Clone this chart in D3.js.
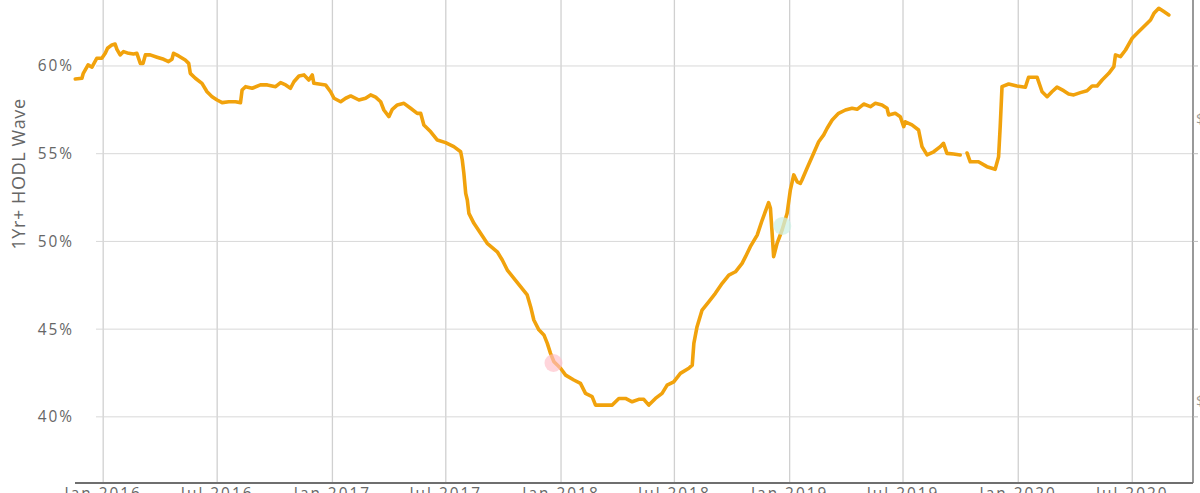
<!DOCTYPE html>
<html>
<head>
<meta charset="utf-8">
<script src="https://cdn.jsdelivr.net/npm/d3@7"></script>
<style>
  html, body { margin: 0; padding: 0; background: #fff; overflow: hidden; }
  svg { display: block; }
  text { font-family: "Open Sans", "DejaVu Sans", sans-serif; }
</style>
</head>
<body>
<svg id="chart" width="1200" height="493"></svg>
<script>
// ---- data (decimal years, % values) ----
const years = [
  2015.878, 2015.907, 2015.913, 2015.934, 2015.951, 2015.972, 2015.994, 2016.009, 2016.019, 2016.038,
  2016.052, 2016.060, 2016.074, 2016.089, 2016.111, 2016.132, 2016.147, 2016.162, 2016.174, 2016.184,
  2016.205, 2016.235, 2016.264, 2016.285, 2016.300, 2016.307, 2016.329, 2016.358, 2016.373, 2016.380,
  2016.402, 2016.431, 2016.453, 2016.475, 2016.497, 2016.519, 2016.548, 2016.577, 2016.599, 2016.606,
  2016.621, 2016.650, 2016.686, 2016.716, 2016.752, 2016.774, 2016.796, 2016.817, 2016.832, 2016.854,
  2016.876, 2016.897, 2016.912, 2016.919, 2016.941, 2016.970, 2016.992, 2017.007, 2017.036, 2017.058,
  2017.080, 2017.116, 2017.145, 2017.167, 2017.189, 2017.211, 2017.225, 2017.247, 2017.262, 2017.284,
  2017.313, 2017.342, 2017.371, 2017.386, 2017.400, 2017.430, 2017.459, 2017.495, 2017.531, 2017.561,
  2017.568, 2017.575, 2017.583, 2017.590, 2017.597, 2017.619, 2017.648, 2017.677, 2017.721, 2017.743,
  2017.765, 2017.794, 2017.823, 2017.852, 2017.867, 2017.881, 2017.903, 2017.925, 2017.940, 2017.954,
  2017.969, 2017.998, 2018.020, 2018.056, 2018.085, 2018.107, 2018.136, 2018.151, 2018.180, 2018.224,
  2018.253, 2018.282, 2018.311, 2018.340, 2018.362, 2018.384, 2018.413, 2018.442, 2018.464, 2018.493,
  2018.522, 2018.559, 2018.574, 2018.581, 2018.595, 2018.617, 2018.646, 2018.675, 2018.705, 2018.734,
  2018.763, 2018.792, 2018.807, 2018.828, 2018.858, 2018.880, 2018.908, 2018.916, 2018.923, 2018.930,
  2018.945, 2018.967, 2018.989, 2019.003, 2019.018, 2019.033, 2019.047, 2019.054, 2019.076, 2019.105,
  2019.127, 2019.149, 2019.164, 2019.186, 2019.214, 2019.244, 2019.273, 2019.295, 2019.324, 2019.353,
  2019.375, 2019.404, 2019.426, 2019.433, 2019.462, 2019.484, 2019.499, 2019.506, 2019.535, 2019.564,
  2019.579, 2019.601, 2019.630, 2019.659, 2019.673, 2019.688, 2019.717, 2019.746, 2019.761, 2019.776,
  2019.790, 2019.826, 2019.863, 2019.899, 2019.914, 2019.921, 2019.929, 2019.958, 2019.994, 2020.031,
  2020.045, 2020.082, 2020.104, 2020.126, 2020.147, 2020.169, 2020.198, 2020.220, 2020.242, 2020.271,
  2020.300, 2020.322, 2020.344, 2020.366, 2020.395, 2020.417, 2020.424, 2020.446, 2020.468, 2020.497,
  2020.526, 2020.555, 2020.577, 2020.592, 2020.613, 2020.635, 2020.657
];
const hodl = [
  59.26, 59.30, 59.58, 60.06, 59.93, 60.44, 60.44, 60.72, 61.01, 61.20,
  61.25, 60.95, 60.63, 60.82, 60.72, 60.68, 60.72, 60.15, 60.15, 60.63,
  60.63, 60.50, 60.38, 60.25, 60.38, 60.72, 60.57, 60.34, 60.15, 59.58,
  59.30, 59.01, 58.53, 58.25, 58.06, 57.91, 57.96, 57.96, 57.91, 58.63,
  58.82, 58.73, 58.92, 58.92, 58.82, 59.05, 58.92, 58.73, 59.10, 59.43,
  59.49, 59.20, 59.49, 59.01, 58.97, 58.92, 58.53, 58.16, 57.96, 58.16,
  58.29, 58.06, 58.16, 58.35, 58.22, 57.96, 57.49, 57.11, 57.53, 57.78,
  57.87, 57.59, 57.30, 57.30, 56.64, 56.25, 55.78, 55.63, 55.40, 55.11,
  54.64, 53.88, 52.74, 52.36, 51.60, 51.03, 50.46, 49.89, 49.41, 48.94,
  48.37, 47.90, 47.42, 46.95, 46.28, 45.52, 44.96, 44.67, 44.19, 43.62,
  43.14, 42.77, 42.38, 42.10, 41.91, 41.34, 41.15, 40.67, 40.67, 40.67,
  41.05, 41.05, 40.86, 41.00, 41.00, 40.67, 41.05, 41.34, 41.81, 42.00,
  42.48, 42.77, 42.95, 44.19, 45.14, 46.09, 46.56, 47.04, 47.61, 48.08,
  48.27, 48.75, 49.13, 49.70, 50.36, 51.22, 52.21, 51.89, 50.55, 49.13,
  49.89, 50.65, 51.60, 52.93, 53.79, 53.40, 53.31, 53.50, 54.17, 55.02,
  55.68, 56.07, 56.45, 56.92, 57.30, 57.49, 57.59, 57.53, 57.83, 57.68,
  57.87, 57.78, 57.59, 57.21, 57.30, 57.11, 56.54, 56.82, 56.64, 56.35,
  55.40, 54.93, 55.11, 55.40, 55.59, 55.02, 54.98, 54.93, null, 55.04,
  54.54, 54.54, 54.26, 54.11, 54.83, 56.54, 58.82, 58.97, 58.86, 58.79,
  59.36, 59.36, 58.53, 58.25, 58.53, 58.79, 58.59, 58.40, 58.35, 58.48,
  58.59, 58.86, 58.86, 59.20, 59.58, 59.96, 60.63, 60.53, 60.91, 61.58,
  61.96, 62.34, 62.62, 63.00, 63.29, 63.10, 62.91
];
const yTicks = [40, 45, 50, 55, 60];
const xDomain = ["2015-11-17", "2020-10-06"];
const markerYears = [2017.967, 2018.968];
const markerValues = [43.07, 50.88];
const markerColors = ["rgba(255,190,200,0.65)", "rgba(205,240,228,0.75)"];
const rightLabels = ["$10K", "$1K"];
const rightLabelValues = [57.0, 40.9];
const yTitle = "1Yr+ HODL Wave";

// ---- helpers ----
function decToDate(t) {
  const y = Math.floor(t);
  const s = Date.UTC(y, 0, 1), e = Date.UTC(y + 1, 0, 1);
  return new Date(s + (t - y) * (e - s));
}
const data = years.map((t, i) => ({ date: decToDate(t), v: hodl[i] }));

const svg = d3.select("#chart");
const left = 75, right = 1193, bottom = 483;

const x = d3.scaleUtc()
  .domain(xDomain.map(s => new Date(s + "T00:00:00Z")))
  .range([left, right]);
const y = d3.scaleLinear()
  .domain([36.23, 63.76])
  .range([bottom, 0]);

// vertical grid (Jan / Jul)
const xTicks = x.ticks(d3.utcMonth.every(6));
svg.append("g")
  .selectAll("line").data(xTicks).join("line")
  .attr("x1", d => x(d)).attr("x2", d => x(d))
  .attr("y1", 0).attr("y2", bottom)
  .attr("stroke", "#d0d0d0").attr("stroke-width", 1.3);

// horizontal grid
svg.append("g")
  .selectAll("line").data(yTicks).join("line")
  .attr("x1", 96).attr("x2", right)
  .attr("y1", d => y(d)).attr("y2", d => y(d))
  .attr("stroke", "#d8d8d8").attr("stroke-width", 1);

// y tick labels
svg.append("g")
  .selectAll("text").data(yTicks).join("text")
  .attr("x", 74).attr("y", d => y(d))
  .attr("dy", "0.35em")
  .attr("text-anchor", "end")
  .attr("font-size", 15.4)
  .attr("letter-spacing", 2)
  .attr("fill", "#666")
  .text(d => d + "%");

// y title
svg.append("text")
  .attr("transform", "translate(25,174) rotate(-90)")
  .attr("text-anchor", "middle")
  .attr("font-size", 18)
  .attr("letter-spacing", 0.6)
  .attr("fill", "#666")
  .text(yTitle);

// x tick labels (cut off by window bottom, as in the source)
const fmt = d3.utcFormat("%b %Y");
svg.append("g")
  .selectAll("text").data(xTicks).join("text")
  .attr("x", d => x(d)).attr("y", 499)
  .attr("text-anchor", "middle")
  .attr("font-size", 15.4)
  .attr("letter-spacing", 2)
  .attr("fill", "#666")
  .text(d => fmt(d));

// right axis frame and ticks
svg.append("line")
  .attr("x1", right).attr("x2", right).attr("y1", 0).attr("y2", bottom)
  .attr("stroke", "#777").attr("stroke-width", 1.5);
svg.append("g")
  .selectAll("line").data(yTicks).join("line")
  .attr("x1", right).attr("x2", right + 5)
  .attr("y1", d => y(d)).attr("y2", d => y(d))
  .attr("stroke", "#bbb");
svg.append("g")
  .selectAll("text").data(rightLabels).join("text")
  .attr("x", 1196).attr("y", (d, i) => y(rightLabelValues[i]))
  .attr("dy", "0.35em")
  .attr("font-size", 15).attr("fill", "#999")
  .text(d => d);

// bottom axis line
svg.append("line")
  .attr("x1", left).attr("x2", right).attr("y1", bottom).attr("y2", bottom)
  .attr("stroke", "#6f6f6f").attr("stroke-width", 2);

// the line
const line = d3.line()
  .defined(d => d.v != null)
  .x(d => x(d.date)).y(d => y(d.v))
  .curve(d3.curveLinear);
svg.append("path")
  .datum(data)
  .attr("d", line)
  .attr("fill", "none")
  .attr("stroke", "#f1a20c")
  .attr("stroke-width", 3.6)
  .attr("stroke-linejoin", "round")
  .attr("stroke-linecap", "round");

// markers
svg.append("g")
  .selectAll("circle").data(markerYears).join("circle")
  .attr("cx", d => x(decToDate(d)))
  .attr("cy", (d, i) => y(markerValues[i]))
  .attr("r", 9)
  .attr("fill", (d, i) => markerColors[i]);
</script>
</body>
</html>
